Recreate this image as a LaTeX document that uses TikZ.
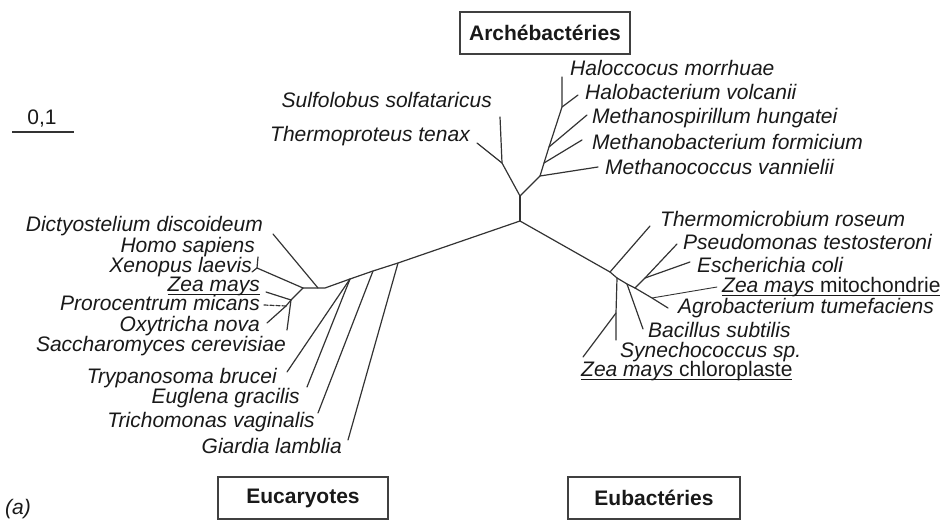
\documentclass[tikz,border=0pt]{standalone}
\usepackage{fontspec}
\setmainfont{Liberation Sans}
% underline that sits just below the baseline, crossing descenders
\newcommand\zul[1]{\setbox0=\hbox{#1}\rlap{\rule[-4pt]{\wd0}{0.9pt}}\box0}
\begin{document}
\begin{tikzpicture}[x=1pt,y=-1pt,
  branch/.style={draw=black!80, line width=1.2pt, line cap=round, line join=round},
  taxon/.style={inner sep=0pt, font=\fontsize{21}{24}\selectfont\itshape, text=black!90},
  taxL/.style={taxon, anchor=base west},
  taxR/.style={taxon, anchor=base east},
  plainlbl/.style={inner sep=0pt, font=\fontsize{21}{24}\selectfont, text=black!90},
  groupbox/.style={draw=black!75, line width=1.1pt, minimum width=170pt, minimum height=42pt,
    inner sep=0pt, font=\fontsize{21}{24}\selectfont\bfseries, text=black!90}]
\useasboundingbox (0,0) rectangle (944,521);

% ---------- junctions ----------
\coordinate (R)  at (520,221);
% archaea
\coordinate (A0) at (520,196);
\coordinate (A1) at (502,163);
\coordinate (A2) at (540,176);
\coordinate (A3) at (544,163);
\coordinate (A4) at (549,147);
\coordinate (A5) at (562,107);
% eucaryotes
\coordinate (E1) at (325,288);
\coordinate (Ed) at (318,288);
\coordinate (E2) at (303,288);
\coordinate (E3) at (257,268);
\coordinate (E4) at (291,300);
\coordinate (E5) at (286,306);
\coordinate (Eg) at (398,263);
\coordinate (Et) at (373,271);
\coordinate (Ee) at (350,279);
% eubacteria
\coordinate (B1) at (610,272);
\coordinate (B2) at (617,278);
\coordinate (B3) at (616,313);
\coordinate (B4) at (627,284);
\coordinate (B5) at (635,288);
\coordinate (B6) at (645,278);
\coordinate (B7) at (652,298);

% ---------- leaves ----------
\coordinate (lSul) at (500,117);
\coordinate (lThp) at (477,143);
\coordinate (lHcc) at (562,77);
\coordinate (lHbv) at (578,95);
\coordinate (lMsp) at (587,115);
\coordinate (lMbf) at (582,140);
\coordinate (lMcv) at (598,167);
\coordinate (lDic) at (273,234);
\coordinate (lHom) at (258,257);
\coordinate (lXen) at (252,272);
\coordinate (lZea) at (266,292);
\coordinate (lPro) at (264,305);
\coordinate (lOxy) at (267,323);
\coordinate (lSac) at (287,330);
\coordinate (lTry) at (287,372);
\coordinate (lEug) at (307,387);
\coordinate (lTri) at (318,413);
\coordinate (lGia) at (348,440);
\coordinate (lTmr) at (650,226);
\coordinate (lPse) at (677,244);
\coordinate (lEsc) at (690,262);
\coordinate (lMit) at (717,287);
\coordinate (lAgr) at (668,308);
\coordinate (lBac) at (643,329);
\coordinate (lSyn) at (616,340);
\coordinate (lChl) at (583,357);

% ---------- branches ----------
\path[branch] (R) -- (A0);
\path[branch] (A0) -- (A1) -- (lSul);
\path[branch] (A1) -- (lThp);
\path[branch] (A0) -- (A2) -- (lMcv);
\path[branch] (A2) -- (A3) -- (A4) -- (A5) -- (lHcc);
\path[branch] (A3) -- (lMbf);
\path[branch] (A4) -- (lMsp);
\path[branch] (A5) -- (lHbv);

\path[branch] (R) -- (Eg) -- (Et) -- (Ee) -- (E1) -- (Ed) -- (E2);
\path[branch] (Eg) -- (lGia);
\path[branch] (Et) -- (lTri);
\path[branch] (Ee) -- (lEug);
\path[branch] (Ee) -- (lTry);
\path[branch] (Ed) -- (lDic);
\path[branch] (E2) -- (E3) -- (lHom);
\path[branch] (E3) -- (lXen);
\path[branch] (E2) -- (E4) -- (lZea);
\path[branch] (E4) -- (lSac);
\path[branch] (E4) -- (E5) -- (lOxy);
\path[branch, dash pattern=on 4pt off 2pt] (E5) -- (lPro);

\path[branch] (R) -- (B1) -- (B2) -- (B4) -- (B5);
\path[branch] (B1) -- (lTmr);
\path[branch] (B2) -- (B3) -- (lSyn);
\path[branch] (B3) -- (lChl);
\path[branch] (B4) -- (lBac);
\path[branch] (B5) -- (B6) -- (lPse);
\path[branch] (B6) -- (lEsc);
\path[branch] (B5) -- (B7) -- (lAgr);
\path[branch, line width=0.9pt] (B7) -- (lMit);

% ---------- taxon labels ----------
\node[taxR] (tSul) at (492,108) {Sulfolobus solfataricus};
\node[taxR] (tThp) at (470,142) {Thermoproteus tenax};
\node[taxL] (tHcc) at (570,76)  {Haloccocus morrhuae};
\node[taxL] (tHbv) at (585,100) {Halobacterium volcanii};
\node[taxL] (tMsp) at (592,124) {Methanospirillum hungatei};
\node[taxL] (tMbf) at (592,150) {Methanobacterium formicium};
\node[taxL] (tMcv) at (605,175) {Methanococcus vannielii};

\node[taxR] (tDic) at (263,232) {Dictyostelium discoideum};
\node[taxR] (tHom) at (255,252) {Homo sapiens};
\node[taxR] (tXen) at (252,272) {Xenopus laevis};
\node[taxR] (tZea) at (260,291) {\zul{Zea mays}};
\node[taxR] (tPro) at (260,310) {Prorocentrum micans};
\node[taxR] (tOxy) at (260,331) {Oxytricha nova};
\node[taxR] (tSac) at (286,351) {Saccharomyces cerevisiae};
\node[taxR] (tTry) at (277,383) {Trypanosoma brucei};
\node[taxR] (tEug) at (300,403) {Euglena gracilis};
\node[taxR] (tTri) at (315,427) {Trichomonas vaginalis};
\node[taxR] (tGia) at (342,453) {Giardia lamblia};

\node[taxL] (tTmr) at (660,227) {Thermomicrobium roseum};
\node[taxL] (tPse) at (683,250) {Pseudomonas testosteroni};
\node[taxL] (tEsc) at (697,272) {Escherichia coli};
\node[taxL] (tMit) at (722,292) {\zul{Zea mays \upshape mitochondrie}};
\node[taxL] (tAgr) at (678,313) {Agrobacterium tumefaciens};
\node[taxL] (tBac) at (648,337) {Bacillus subtilis};
\node[taxL] (tSyn) at (620,357) {Synechococcus sp.};
\node[taxL] (tChl) at (581,376) {\zul{Zea mays \upshape chloroplaste}};

% ---------- group boxes ----------
\node[groupbox] (gArc) at (545,33)  {Archébactéries};
\node[groupbox] (gEuc) at (303,498) {Eucaryotes};
\node[groupbox, minimum width=172pt] (gEub) at (654,498) {Eubactéries};

% ---------- scale bar and panel tag ----------
\coordinate (s1) at (12,132);
\coordinate (s2) at (74,132);
\path[branch, line cap=butt] (s1) -- (s2);
\node[plainlbl, anchor=base] (scl) at (42,125) {0,1};
\node[taxL] (tag) at (5,514) {(a)};
\end{tikzpicture}
\end{document}
